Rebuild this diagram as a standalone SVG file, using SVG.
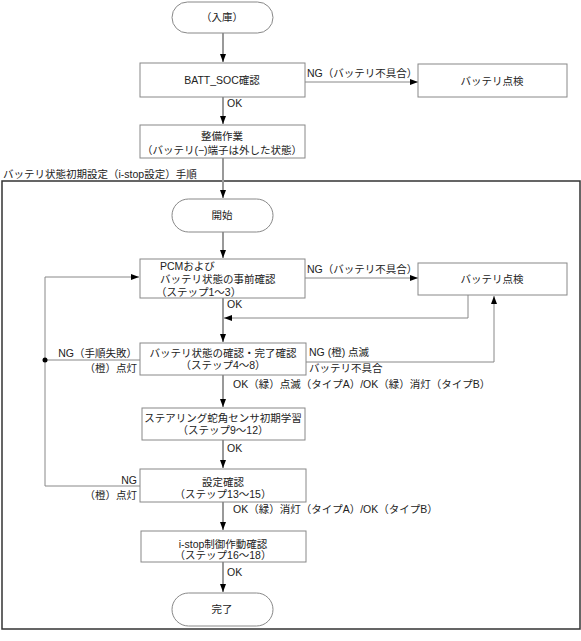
<svg xmlns="http://www.w3.org/2000/svg" width="581" height="641" viewBox="0 0 581 641">
<style>
text{font-family:"Liberation Sans","Noto Sans CJK JP",sans-serif;font-size:10.5px;fill:#222}
.c{text-anchor:middle}
.r{text-anchor:end}
.box{fill:#fff;stroke:#888;stroke-width:1}
.ln{fill:none;stroke:#888;stroke-width:1}
.vl{fill:none;stroke:#999;stroke-width:2}
</style>
<defs>
<marker id="ah" viewBox="0 0 8 6" refX="8" refY="3" markerWidth="8" markerHeight="6" markerUnits="userSpaceOnUse" orient="auto">
<path d="M0,0 L8,3 L0,6 Z" fill="#000"/>
</marker>
</defs>
<rect x="2" y="181" width="578" height="448" fill="none" stroke="#333" stroke-width="1.5"/>
<text x="3" y="178">バッテリ状態初期設定（i-stop設定）手順</text>
<g id="connectors">
<path class="vl" d="M223,33 V62" marker-end="url(#ah)"/>
<path class="vl" d="M223,97 V124" marker-end="url(#ah)"/>
<path class="vl" d="M223,158 V198" marker-end="url(#ah)"/>
<path class="vl" d="M223,232 V258" marker-end="url(#ah)"/>
<path class="vl" d="M223,298 V342" marker-end="url(#ah)"/>
<path class="vl" d="M223,375 V407" marker-end="url(#ah)"/>
<path class="vl" d="M223,440 V468" marker-end="url(#ah)"/>
<path class="vl" d="M223,502 V530" marker-end="url(#ah)"/>
<path class="vl" d="M223,562 V592" marker-end="url(#ah)"/>
<path class="ln" d="M305,82 H418" marker-end="url(#ah)"/>
<path class="ln" d="M305,278 H418" marker-end="url(#ah)"/>
<path class="ln" d="M468,295 V318 H224" marker-end="url(#ah)"/>
<path class="ln" d="M306,362 H494 V296" marker-end="url(#ah)"/>
<path class="ln" d="M140,360 H45 M45,486 V277 H139" marker-end="url(#ah)"/>
<path class="ln" d="M140,486 H45"/>
<circle cx="45" cy="360" r="2.5" fill="#000"/>
<text x="307" y="77">NG（バッテリ不具合）</text>
<text x="227" y="107">OK</text>
<text x="307" y="273">NG（バッテリ不具合）</text>
<text x="227" y="308">OK</text>
<text x="137" y="357" class="r">NG（手順失敗）</text>
<text x="137" y="372" class="r">（橙）点灯</text>
<text x="309" y="356">NG (橙) 点滅</text>
<text x="309" y="372">バッテリ不具合</text>
<text x="233" y="388">OK（緑）点滅（タイプA）/OK（緑）消灯（タイプB）</text>
<text x="227" y="452">OK</text>
<text x="137" y="484" class="r">NG</text>
<text x="137" y="499" class="r">（橙）点灯</text>
<text x="233" y="513">OK（緑）消灯（タイプA）/OK（タイプB）</text>
<text x="227" y="576">OK</text>
</g>
<g id="n_start0">
<rect class="box" x="172" y="2" width="101" height="31" rx="15.5"/>
<text x="222" y="21" class="c">（入庫）</text>
</g>
<g id="n_batt_soc">
<rect class="box" x="140" y="63" width="165" height="34"/>
<text x="222" y="84" class="c">BATT_SOC確認</text>
</g>
<g id="n_check1">
<rect class="box" x="418" y="64" width="149" height="33"/>
<text x="492" y="85" class="c">バッテリ点検</text>
</g>
<g id="n_maint">
<rect class="box" x="140" y="125" width="165" height="33"/>
<text x="222" y="140" class="c">整備作業</text>
<text x="222" y="154" class="c">（バッテリ(−)端子は外した状態）</text>
</g>
<g id="n_begin">
<rect class="box" x="172" y="199" width="101" height="33" rx="16.5"/>
<text x="222" y="219" class="c">開始</text>
</g>
<g id="n_pcm">
<rect class="box" x="140" y="259" width="165" height="39"/>
<text x="160" y="270">PCMおよび</text>
<text x="160" y="283">バッテリ状態の事前確認</text>
<text x="156" y="296">（ステップ1〜3）</text>
</g>
<g id="n_check2">
<rect class="box" x="418" y="263" width="149" height="32"/>
<text x="492" y="283" class="c">バッテリ点検</text>
</g>
<g id="n_step4">
<rect class="box" x="140" y="343" width="166" height="32"/>
<text x="223" y="357" class="c">バッテリ状態の確認・完了確認</text>
<text x="223" y="369" class="c">（ステップ4〜8）</text>
</g>
<g id="n_step9">
<rect class="box" x="142" y="408" width="163" height="32"/>
<text x="223" y="422" class="c">ステアリング蛇角センサ初期学習</text>
<text x="223" y="434" class="c">（ステップ9〜12）</text>
</g>
<g id="n_step13">
<rect class="box" x="140" y="469" width="166" height="33"/>
<text x="223" y="486" class="c">設定確認</text>
<text x="223" y="498" class="c">（ステップ13〜15）</text>
</g>
<g id="n_step16">
<rect class="box" x="141" y="531" width="165" height="31"/>
<text x="223" y="548" class="c">i-stop制御作動確認</text>
<text x="223" y="559" class="c">（ステップ16〜18）</text>
</g>
<g id="n_end">
<rect class="box" x="172" y="593" width="101" height="33" rx="16.5"/>
<text x="222" y="613" class="c">完了</text>
</g>
</svg>
